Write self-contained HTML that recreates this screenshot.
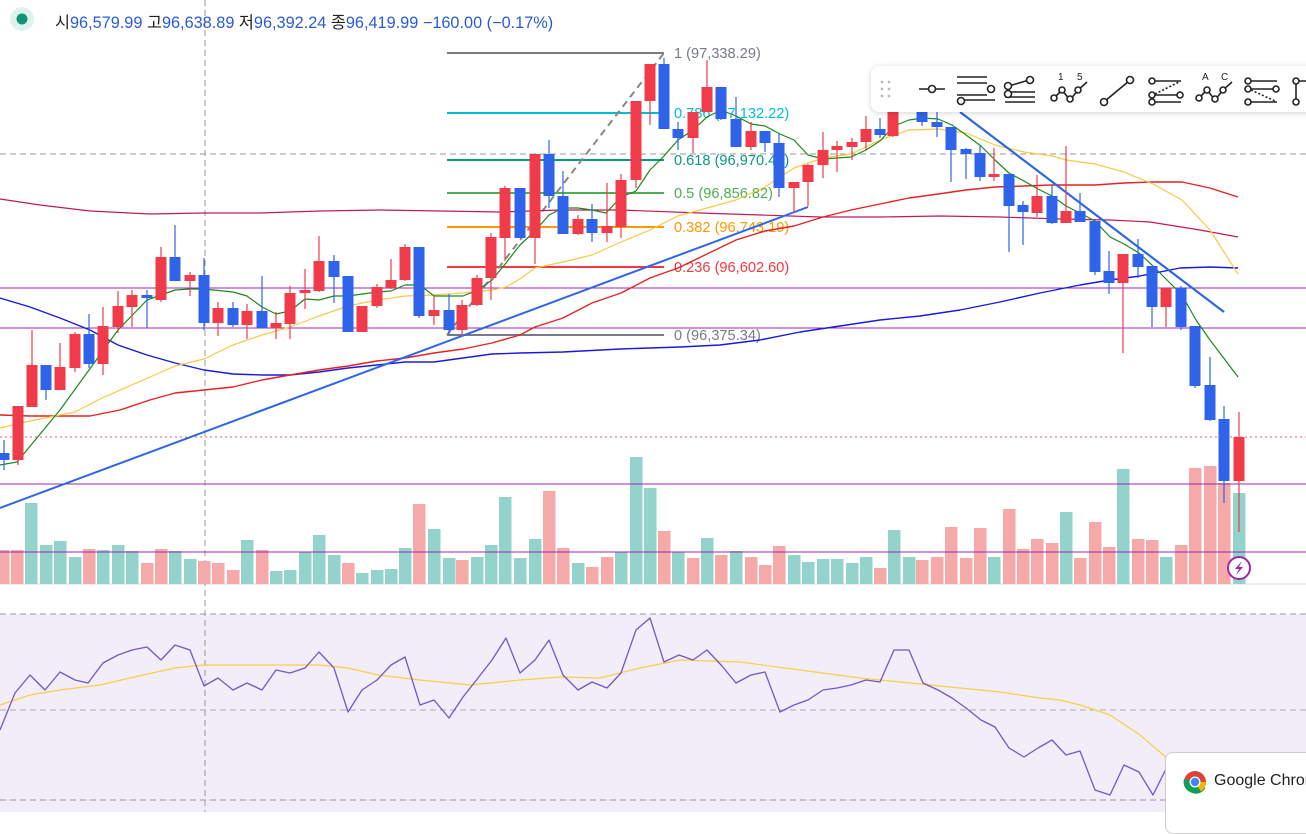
<!DOCTYPE html>
<html><head><meta charset="utf-8"><style>
html,body{margin:0;padding:0;background:#fff;width:1306px;height:812px;overflow:hidden;font-family:"Liberation Sans","Noto Sans CJK KR",sans-serif}
#c{position:absolute;left:0;top:0}
.hdr{position:absolute;left:55px;top:9px;font-size:16.3px;color:#222;white-space:nowrap}
.hdr b{font-weight:normal;color:#2a5bd7}
.tb{position:absolute;left:871px;top:66px;width:450px;height:46px;background:#fff;border-radius:8px;box-shadow:0 1px 6px rgba(0,0,0,.18)}
.toast{position:absolute;left:1165px;top:752px;width:160px;height:80px;background:#fff;border:1px solid #ccc;border-radius:8px;font-size:16px;color:#222;white-space:nowrap;overflow:hidden}
</style></head><body>
<svg id="c" width="1306" height="812" xmlns="http://www.w3.org/2000/svg"></svg>
<div class="hdr">시<b>96,579.99</b> 고<b>96,638.89</b> 저<b>96,392.24</b> 종<b>96,419.99</b> <b>−160.00 (−0.17%)</b></div>
<div class="tb"><svg width="450" height="46" xmlns="http://www.w3.org/2000/svg" fill="none" stroke="#222" stroke-width="1.6">
<g fill="#bbb" stroke="none"><circle cx="11" cy="16" r="1.4"/><circle cx="18" cy="16" r="1.4"/><circle cx="11" cy="23" r="1.4"/><circle cx="18" cy="23" r="1.4"/><circle cx="11" cy="30" r="1.4"/><circle cx="18" cy="30" r="1.4"/></g>
<path d="M48 23h26"/><circle cx="61" cy="23" r="3.5" fill="#fff"/>
<path d="M86 11h30M86 17h30M86 29h30M94 34h30"/><circle cx="120" cy="23" r="3.5" fill="#fff"/><circle cx="90" cy="35" r="3.5" fill="#fff"/>
<path d="M134 26h30M134 31h30M134 36h30M138 20l20-6"/><circle cx="137" cy="20" r="3.5" fill="#fff"/><circle cx="159" cy="14" r="3.5" fill="#fff"/><circle cx="137" cy="28" r="3.5" fill="#fff"/>
<path d="M183 32l8-8 8 10 8-10 9-8"/><circle cx="183" cy="32" r="3" fill="#fff"/><circle cx="191" cy="24" r="3" fill="#fff"/><circle cx="199" cy="33" r="3" fill="#fff"/><circle cx="207" cy="24" r="3" fill="#fff"/>
<text x="187" y="14" font-size="10" fill="#222" stroke="none" font-family="Liberation Sans">1</text><text x="206" y="14" font-size="10" fill="#222" stroke="none" font-family="Liberation Sans">5</text>
<path d="M234 35l24-20"/><circle cx="233" cy="36" r="3.5" fill="#fff"/><circle cx="259" cy="14" r="3.5" fill="#fff"/>
<path d="M280 15h30M280 29h30M280 36h30"/><path d="M284 28l24-12" stroke-dasharray="2 2"/><circle cx="281" cy="15" r="3" fill="#fff"/><circle cx="281" cy="29" r="3" fill="#fff"/><circle cx="281" cy="36" r="3" fill="#fff"/><circle cx="309" cy="29" r="3" fill="#fff"/>
<path d="M328 32l8-8 8 10 8-10 9-8"/><circle cx="328" cy="32" r="3" fill="#fff"/><circle cx="336" cy="24" r="3" fill="#fff"/><circle cx="344" cy="33" r="3" fill="#fff"/><circle cx="352" cy="24" r="3" fill="#fff"/>
<text x="331" y="14" font-size="10" fill="#222" stroke="none" font-family="Liberation Sans">A</text><text x="350" y="14" font-size="10" fill="#222" stroke="none" font-family="Liberation Sans">C</text>
<path d="M376 15h30M376 23h30M376 36h30"/><path d="M380 24l24 11" stroke-dasharray="2 2"/><circle cx="377" cy="15" r="3" fill="#fff"/><circle cx="377" cy="23" r="3" fill="#fff"/><circle cx="405" cy="23" r="3" fill="#fff"/><circle cx="377" cy="36" r="3" fill="#fff"/>
<path d="M425 15v21M425 15h12"/><circle cx="425" cy="15" r="3" fill="#fff"/><circle cx="425" cy="36" r="3" fill="#fff"/>
</svg></div>
<div class="toast"><svg width="26" height="26" style="position:absolute;left:16px;top:16px"><circle cx="13" cy="13" r="11" fill="#db4437"/><path d="M13 13L23.5 19A11 11 0 0 1 8 23z" fill="#0f9d58"/><path d="M13 13L8 23A11 11 0 0 1 2 10z" fill="#0f9d58"/><path d="M13 13L24 13A11 11 0 0 1 19 22.5z" fill="#f4b400"/><circle cx="13" cy="13" r="5.5" fill="#fff"/><circle cx="13" cy="13" r="4.2" fill="#4285f4"/></svg><span style="position:absolute;left:48px;top:19px">Google Chrome</span></div>
<script>
const S=document.getElementById('c');let h='';
function L(x1,y1,x2,y2,c,w,d){h+=`<line x1="${x1}" y1="${y1}" x2="${x2}" y2="${y2}" stroke="${c}" stroke-width="${w||1}" ${d?`stroke-dasharray="${d}"`:''}/>`}
function P(pts,c,w){h+=`<polyline fill="none" stroke="${c}" stroke-width="${w||1.2}" stroke-linejoin="round" points="${pts.map(p=>p.join(',')).join(' ')}"/>`}
h+=`<rect x="0" y="614" width="1306" height="198" fill="#f1edf9"/>`;
L(0,614,1306,614,'#999',1,'6 4');L(0,710,1306,710,'#aaa',1,'6 4');L(0,800,1306,800,'#999',1,'6 4');
L(0,584,1306,584,'#ddd',1);
L(205,0,205,812,'#999',1,'6 4');
L(0,154,1306,154,'#999',1,'6 4');
L(0,437,1306,437,'#e06070',1,'2 3');
const V=[[3,550,'p'],[17,550,'p'],[31,503,'t'],[46,545,'t'],[60,541,'t'],[75,557,'t'],[89,549,'p'],[103,550,'t'],[118,545,'t'],[132,551,'t'],[147,563,'p'],[161,549,'p'],[175,551,'t'],[190,559,'t'],[204,561,'p'],[218,563,'p'],[233,570,'p'],[247,540,'t'],[262,550,'p'],[276,571,'t'],[290,570,'t'],[305,552,'t'],[319,535,'t'],[334,555,'t'],[348,563,'p'],[362,573,'t'],[377,570,'t'],[391,569,'t'],[405,548,'t'],[419,504,'p'],[434,529,'t'],[449,558,'t'],[462,560,'p'],[477,557,'t'],[491,545,'t'],[505,497,'t'],[520,558,'t'],[535,539,'t'],[549,491,'p'],[563,548,'p'],[578,563,'t'],[592,567,'p'],[607,557,'p'],[621,552,'t'],[636,457,'t'],[650,488,'t'],[664,531,'p'],[678,552,'t'],[693,558,'p'],[707,538,'t'],[721,555,'p'],[736,551,'t'],[751,557,'p'],[765,565,'p'],[779,546,'p'],[794,555,'t'],[808,562,'t'],[823,559,'t'],[837,559,'t'],[852,563,'t'],[866,557,'t'],[880,568,'p'],[894,530,'t'],[909,557,'t'],[922,560,'p'],[937,557,'p'],[951,527,'p'],[966,558,'p'],[980,528,'p'],[994,557,'t'],[1009,509,'p'],[1023,549,'p'],[1037,539,'p'],[1052,543,'p'],[1066,512,'t'],[1080,558,'p'],[1095,522,'p'],[1109,547,'p'],[1123,469,'t'],[1138,539,'p'],[1152,540,'p'],[1166,557,'t'],[1181,545,'p'],[1195,468,'p'],[1210,466,'p'],[1224,483,'p'],[1239,493,'t']];
V.forEach(v=>h+=`<rect x="${v[0]-6}" y="${v[1]}" width="12.5" height="${584-v[1]}" fill="${v[2]=='t'?'#93d3cb':'#f5a9a9'}"/>`);
[288,328,484,552].forEach(y=>L(0,y,1306,y,'#9c27b0',1));
const F=[[53,'#787b86','1 (97,338.29)'],[113,'#00bcd4','0.786 (97,132.22)'],[160,'#089981','0.618 (96,970.47)'],[193,'#4caf50','0.5 (96,856.82)'],[227,'#ff9800','0.382 (96,743.19)'],[267,'#f23645','0.236 (96,602.60)'],[335,'#787b86','0 (96,375.34)']];
F.forEach(f=>{L(447,f[0],664,f[0],f[1],2);h+=`<text x="674" y="${f[0]+5}" font-size="14.6" fill="${f[1]}" font-family="Liberation Sans">${f[2]}</text>`});
L(447,335,664,53,'#888',2,'7 5');
P([[0,199],[40,205],[90,211],[150,214],[204,213],[260,213],[320,211],[380,210],[440,211],[500,212],[560,210],[620,210],[700,213],[760,215],[820,217],[880,217],[940,216],[1000,217],[1060,219],[1110,220],[1150,222],[1200,230],[1238,237]],'#c2185b',1.2);
P([[0,298],[30,307],[60,318],[90,330],[118,345],[147,355],[175,363],[204,370],[233,374],[262,375],[290,375],[319,372],[348,368],[377,365],[405,362],[434,362],[463,358],[492,354],[520,353],[563,352],[620,349],[680,347],[720,345],[760,340],[800,332],[840,326],[880,320],[920,316],[960,310],[1000,302],[1040,293],[1080,285],[1110,280],[1140,276],[1180,268],[1210,267],[1238,268]],'#1a1adb',1.4);
P([[0,415],[30,416],[60,416],[90,416],[120,410],[150,400],[175,393],[204,390],[233,387],[262,380],[290,375],[319,370],[348,366],[377,361],[405,358],[434,353],[463,349],[492,343],[520,335],[535,327],[563,318],[592,303],[621,293],[650,278],[678,268],[707,254],[736,240],[765,231],[794,226],[823,217],[851,210],[880,204],[909,198],[938,194],[966,190],[995,187],[1024,186],[1052,185],[1095,185],[1124,183],[1153,182],[1182,182],[1210,188],[1238,197]],'#e52222',1.4);
P([[0,428],[30,421],[60,415],[75,412],[100,399],[150,377],[175,366],[204,359],[233,345],[262,335],[290,327],[319,316],[348,306],[377,300],[405,296],[434,295],[463,293],[492,290],[506,287],[520,279],[535,268],[563,262],[592,255],[621,242],[650,230],[678,216],[707,208],[736,200],[765,187],[794,168],[823,158],[851,154],[880,140],[909,130],[938,129],[966,133],[995,145],[1024,152],[1052,156],[1066,160],[1095,164],[1124,172],[1153,184],[1182,200],[1210,230],[1238,274]],'#f7c948',1.2);
P([[0,465],[17,462],[60,410],[89,370],[118,330],[147,300],[175,290],[190,289],[204,289],[233,292],[247,296],[262,307],[276,314],[290,311],[305,299],[319,300],[334,296],[348,296],[377,292],[391,291],[405,285],[420,285],[434,296],[449,296],[463,296],[478,290],[492,280],[506,263],[520,245],[535,231],[549,215],[563,208],[578,208],[592,210],[606,213],[621,197],[636,191],[650,170],[664,156],[678,140],[693,130],[707,117],[721,110],[736,116],[751,124],[765,126],[780,134],[794,140],[808,155],[823,159],[837,158],[851,157],[866,150],[880,141],[894,126],[909,120],[923,118],[938,119],[952,125],[966,135],[981,146],[995,160],[1009,173],[1024,181],[1038,189],[1052,196],[1066,206],[1080,213],[1095,221],[1110,237],[1124,244],[1139,253],[1153,266],[1167,280],[1182,295],[1196,320],[1210,340],[1238,377]],'#1b8a1b',1.2);
L(0,508,808,207,'#2f66e6',2);L(960,112,1224,312,'#2f66e6',2.2);
const C=[[4,453,460,440,470,'b'],[18,406,460,406,465,'r'],[32,365,407,330,407,'r'],[46,365,390,365,400,'b'],[60,367,390,343,390,'r'],[75,334,368,332,372,'r'],[89,334,364,314,368,'b'],[103,326,364,307,375,'r'],[118,306,327,291,333,'r'],[132,295,307,290,327,'r'],[147,295,298,290,328,'b'],[161,257,300,247,302,'r'],[175,257,281,225,281,'b'],[190,275,281,272,296,'r'],[204,275,323,258,330,'b'],[218,308,323,302,336,'r'],[233,308,325,302,327,'b'],[247,311,325,304,339,'r'],[262,311,328,276,328,'b'],[276,323,328,312,339,'r'],[290,293,324,286,339,'r'],[305,290,293,269,309,'r'],[319,261,291,236,292,'r'],[334,261,277,255,303,'b'],[348,276,332,276,332,'b'],[362,306,332,306,332,'r'],[377,287,306,284,308,'r'],[391,280,288,259,289,'r'],[405,247,280,244,281,'r'],[419,247,316,247,318,'b'],[434,310,316,296,325,'r'],[449,310,330,294,335,'b'],[462,305,330,300,336,'r'],[477,278,305,275,306,'r'],[491,237,278,233,300,'r'],[505,188,238,186,261,'r'],[520,188,238,188,238,'b'],[535,154,238,154,264,'r'],[549,154,196,140,208,'b'],[563,196,234,171,234,'b'],[578,219,234,215,235,'r'],[592,219,233,204,242,'b'],[607,226,233,183,242,'r'],[621,180,227,174,238,'r'],[636,101,180,101,188,'r'],[650,64,101,64,125,'r'],[664,64,129,58,129,'b'],[678,129,138,122,150,'b'],[693,112,138,112,153,'r'],[707,87,112,60,112,'r'],[721,87,119,87,120,'b'],[736,119,147,97,147,'b'],[751,131,147,122,150,'r'],[765,131,143,131,152,'b'],[779,143,188,134,197,'b'],[794,182,188,182,213,'r'],[808,165,182,164,206,'r'],[823,150,165,132,178,'r'],[837,146,150,141,172,'r'],[852,142,147,138,160,'r'],[866,129,142,116,150,'r'],[880,129,135,118,138,'b'],[893,112,136,106,137,'r'],[922,112,122,108,126,'b'],[937,122,127,112,137,'b'],[951,127,150,127,182,'b'],[966,149,154,148,179,'b'],[980,153,177,146,181,'b'],[994,174,177,148,181,'r'],[1009,174,206,174,252,'b'],[1023,205,212,201,245,'b'],[1037,196,213,175,217,'r'],[1052,196,223,185,224,'b'],[1066,211,223,146,223,'r'],[1080,211,222,193,222,'b'],[1095,221,272,221,275,'b'],[1109,271,283,251,294,'b'],[1123,254,283,254,353,'r'],[1138,254,267,239,278,'b'],[1152,266,307,266,327,'b'],[1166,288,307,288,327,'r'],[1181,288,327,286,330,'b'],[1195,326,386,326,388,'b'],[1210,385,420,357,421,'b'],[1224,419,481,406,503,'b'],[1239,437,481,412,532,'r']];
C.forEach(c=>{const col=c[5]=='r'?'#ef3b4a':'#2f63ea';L(c[0],c[3],c[0],c[4],col,1.2);h+=`<rect x="${c[0]-5.5}" y="${c[1]}" width="11" height="${Math.max(1.5,c[2]-c[1])}" fill="${col}"/>`});
h+=`<circle cx="1239" cy="568" r="11" fill="#fff" stroke="#9c27b0" stroke-width="2"/><path d="M1242 561l-7 8h4l-3 6 7-8h-4z" fill="#9c27b0"/>`;
P([[0,705],[30,695],[60,690],[100,685],[130,678],[175,668],[204,665],[260,665],[320,665],[348,668],[378,675],[420,680],[470,685],[520,680],[560,677],[600,678],[640,668],[680,660],[740,662],[800,670],[860,678],[900,682],[950,687],[1000,692],[1040,698],[1060,700],[1080,705],[1110,715],[1140,735],[1167,758]],'#f7cf4a',1.2);
P([[0,730],[15,693],[30,675],[45,690],[60,672],[75,680],[88,683],[103,663],[118,655],[132,650],[147,647],[161,660],[175,645],[190,650],[204,686],[218,678],[233,690],[247,683],[262,690],[276,670],[290,673],[305,668],[319,652],[334,668],[348,712],[362,690],[377,680],[391,665],[405,657],[420,705],[434,700],[449,718],[463,697],[478,678],[492,660],[506,638],[520,673],[535,660],[549,640],[563,675],[578,690],[592,682],[607,688],[621,673],[636,630],[650,618],[664,662],[679,655],[693,660],[707,650],[722,666],[736,683],[751,675],[765,672],[780,712],[794,705],[808,700],[823,690],[837,688],[851,685],[866,680],[880,682],[894,650],[909,650],[923,683],[938,690],[952,698],[966,708],[981,720],[995,727],[1009,748],[1024,757],[1038,748],[1052,740],[1066,755],[1080,751],[1095,790],[1110,795],[1124,765],[1139,772],[1153,795],[1167,767]],'#7557c2',1.3);
h+=`<circle cx="22" cy="19" r="12" fill="#dff3ee"/><circle cx="22" cy="19" r="5.5" fill="#0f9477"/>`;
S.innerHTML=h;
</script>
</body></html>
